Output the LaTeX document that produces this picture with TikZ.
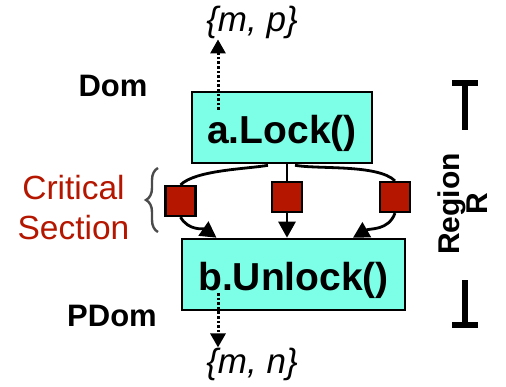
\documentclass[tikz,border=0pt]{standalone}
\usepackage{fontspec}
\setmainfont{Liberation Sans}
\usetikzlibrary{arrows.meta,decorations.pathreplacing}

\definecolor{lockcyan}{RGB}{124,255,230}
\definecolor{critred}{RGB}{180,22,0}
\definecolor{bracegray}{RGB}{75,75,75}

\begin{document}
\begin{tikzpicture}[x=1pt,y=1pt,
    lockbox/.style={draw,line width=2.6pt,fill=lockcyan,minimum height=71pt,
      text height=32pt,text depth=0pt,inner sep=0pt,
      font=\bfseries\fontsize{39}{40}\selectfont},
    csquare/.style={draw,line width=2.2pt,fill=critred,minimum size=30pt,inner sep=0pt},
    flow/.style={line width=2.8pt,-{Triangle[length=16pt,width=17pt]}},
    edge/.style={line width=2.8pt},
    dotflow/.style={line width=3pt,dash pattern=on 2.6pt off 2pt,
      -{Triangle[length=14pt,width=15pt]}},
    setlabel/.style={inner sep=0pt,anchor=base,font=\itshape\fontsize{35}{36}\selectfont},
    domlabel/.style={font=\bfseries\fontsize{31}{32}\selectfont},
    bar/.style={line width=5.5pt}]
  \useasboundingbox (0,0) rectangle (506,386);

  % the two lock calls
  \node[lockbox,minimum width=180pt] (lock) at (282,258.5) {a.Lock()};
  \node[lockbox,minimum width=223pt] (unlock) at (293.5,111.5) {b.Unlock()};

  % statements of the critical section
  \node[csquare] (s1) at (180.5,185) {};
  \node[csquare] (s2) at (287,189) {};
  \node[csquare] (s3) at (395,189) {};

  \draw[edge] ([xshift=-14pt,yshift=-1pt]lock.south) to[out=190,in=45,looseness=0.6] (s1.north);
  \draw[edge] (s2.north |- lock.south) -- (s2.north);
  \draw[edge] ([xshift=13pt,yshift=-1pt]lock.south) to[out=-10,in=135,looseness=0.6] (s3.north);
  \draw[flow] (s1.south) to[out=-60,in=145] ([xshift=-77pt]unlock.north);
  \draw[flow] (s2.south) -- (s2.south |- unlock.north);
  \draw[flow] (s3.south) to[out=-110,in=30] ([xshift=59.5pt]unlock.north);

  % lock sets flowing out
  \node[setlabel] (mp) at (252,354) {\{m, p\}};
  \node[setlabel] (mn) at (252,13) {\{m, n\}};
  \coordinate (lockout) at ([xshift=-64pt,yshift=17.5pt]lock.center);
  \coordinate (unlockout) at ([xshift=-75.5pt,yshift=-18.5pt]unlock.center);
  \draw[dotflow] (lockout) -- (lockout |- mp.south);
  \draw[dotflow] (unlockout) -- (unlockout |- mn.north);

  % dominator labels
  \node[domlabel] (dom) at (113,300) {Dom};
  \node[domlabel] (pdom) at (112,70) {PDom};

  % critical section brace
  \node[align=center,text=critred,font=\fontsize{33.5}{40}\selectfont] (crit) at (73.5,178) {Critical\\Section};
  \draw[bracegray,line width=2.4pt,decorate,decoration={brace,amplitude=12pt}]
    (158,154) -- (158,218);

  % region extent
  \node[rotate=90,align=center,font=\bfseries\fontsize{30}{25}\selectfont] (region) at (463,182) {Region\\R};
  \draw[bar] (452,303) -- (478,303);
  \draw[bar] (465,303) -- (465,256);
  \draw[bar] (465,106) -- (465,61);
  \draw[bar] (452,61) -- (478,61);
\end{tikzpicture}
\end{document}
